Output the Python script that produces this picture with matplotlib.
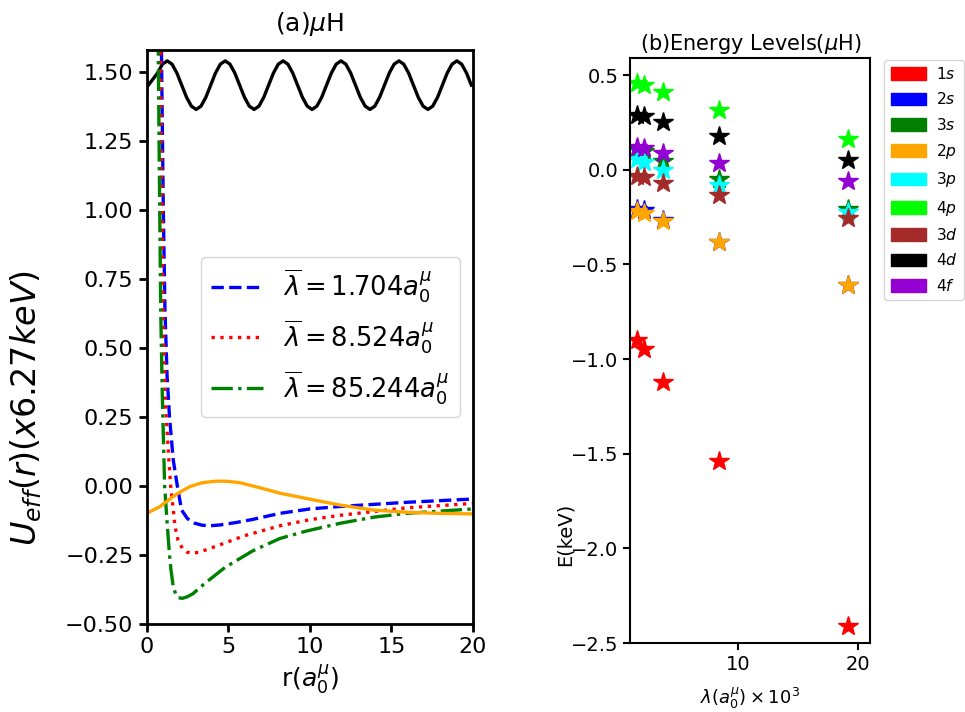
import numpy as np
import matplotlib
matplotlib.use('Agg')
import matplotlib.pyplot as plt
from matplotlib.patches import Patch

# ---- panel (a): effective potential ----
r_blue = [0.55, 0.80, 0.92, 1.02, 1.12, 1.25, 1.40, 1.63, 1.88, 2.14, 2.50, 2.96, 3.40, 3.88, 4.50, 5.50, 6.50, 8.17, 10.0, 11.86, 15.93, 20.0]
u_blue = [5.0, 2.2, 1.50, 1.00, 0.64, 0.40, 0.25, 0.094, 0.0, -0.087, -0.118, -0.135, -0.142, -0.144, -0.141, -0.132, -0.121, -0.099, -0.083, -0.074, -0.059, -0.047]

r_red = [0.50, 0.70, 0.86, 0.94, 1.02, 1.15, 1.36, 1.47, 1.74, 1.92, 2.19, 2.45, 2.76, 3.20, 3.80, 4.58, 6.00, 8.17, 10.0, 11.86, 15.93, 20.0]
u_red = [5.0, 2.5, 1.50, 1.00, 0.60, 0.30, 0.094, 0.0, -0.147, -0.196, -0.226, -0.239, -0.244, -0.240, -0.228, -0.211, -0.180, -0.144, -0.122, -0.106, -0.079, -0.063]

r_green = [0.45, 0.62, 0.72, 0.80, 0.86, 0.95, 1.06, 1.10, 1.27, 1.40, 1.49, 1.63, 1.80, 1.95, 2.19, 2.50, 2.84, 3.50, 4.80, 6.50, 8.17, 9.80, 11.86, 13.90, 15.93, 20.0]
u_green = [5.0, 2.5, 1.50, 1.00, 0.64, 0.35, 0.094, 0.0, -0.147, -0.250, -0.304, -0.365, -0.395, -0.405, -0.407, -0.401, -0.390, -0.356, -0.295, -0.235, -0.190, -0.163, -0.135, -0.113, -0.099, -0.083]

r_orange = [0.0, 0.8, 1.6, 2.1, 2.65, 3.4, 4.29, 5.0, 5.72, 7.0, 8.17, 9.80, 11.86, 13.90, 15.93, 18.0, 20.0]
u_orange = [-0.099, -0.075, -0.039, -0.020, -0.002, 0.012, 0.018, 0.017, 0.012, -0.007, -0.026, -0.045, -0.069, -0.087, -0.095, -0.099, -0.101]

# black oscillation, sampled every 0.296 (1/12 of its period), first peak at r=1.26
r_black = np.concatenate([[0.0], 1.26 + 0.296 * np.arange(-2, 64)])
u_black = [1.445, 1.497, 1.529,
           1.541, 1.529, 1.497, 1.453, 1.409, 1.377, 1.365, 1.377, 1.409, 1.453, 1.497, 1.529,
           1.541, 1.529, 1.497, 1.453, 1.409, 1.377, 1.365, 1.377, 1.409, 1.453, 1.497, 1.529,
           1.541, 1.529, 1.497, 1.453, 1.409, 1.377, 1.365, 1.377, 1.409, 1.453, 1.497, 1.529,
           1.541, 1.529, 1.497, 1.453, 1.409, 1.377, 1.365, 1.377, 1.409, 1.453, 1.497, 1.529,
           1.541, 1.529, 1.497, 1.453, 1.409, 1.377, 1.365, 1.377, 1.409, 1.453, 1.497, 1.529,
           1.541, 1.529, 1.497, 1.453]

labels_a = [r'$\overline{\lambda}=1.704a_0^{\mu}$',
            r'$\overline{\lambda}=8.524a_0^{\mu}$',
            r'$\overline{\lambda}=85.244a_0^{\mu}$']

# ---- panel (b): energy levels ----
lam = [1.56, 2.17, 3.72, 8.42, 19.1]
levels = ['1s', '2s', '3s', '2p', '3p', '4p', '3d', '4d', '4f']
colors = ['red', 'blue', 'green', 'orange', 'cyan', 'lime', 'brown', 'black', 'darkviolet']
E_1s = [-0.90, -0.945, -1.12, -1.54, -2.41]
E_2s = [-0.21, -0.215, -0.263, -0.38, -0.61]
E_3s = [0.107, 0.10, 0.045, -0.048, -0.206]
E_2p = [-0.22, -0.228, -0.27, -0.38, -0.61]
E_3p = [0.055, 0.04, 0.0, -0.083, -0.224]
E_4p = [0.46, 0.45, 0.41, 0.315, 0.16]
E_3d = [-0.034, -0.04, -0.072, -0.136, -0.256]
E_4d = [0.29, 0.284, 0.25, 0.178, 0.051]
E_4f = [0.12, 0.116, 0.086, 0.033, -0.06]
energies = [E_1s, E_2s, E_3s, E_2p, E_3p, E_4p, E_3d, E_4d, E_4f]

fig = plt.figure(figsize=(9.65, 7.12), dpi=100)

ax1 = fig.add_axes([0.152, 0.1236, 0.338, 0.806])
ax1.plot(r_black, u_black, color='black', lw=2.4)
ax1.plot(r_blue, u_blue, '--', color='blue', lw=2.4, label=labels_a[0])
ax1.plot(r_red, u_red, ':', color='red', lw=2.4, label=labels_a[1])
ax1.plot(r_green, u_green, '-.', color='green', lw=2.4, label=labels_a[2])
ax1.plot(r_orange, u_orange, '-', color='orange', lw=2.4)
ax1.set_xlim(0, 20)
ax1.set_ylim(-0.5, 1.58)
ax1.set_xticks([0, 5, 10, 15, 20])
ax1.set_yticks(np.arange(-0.5, 1.51, 0.25))
ax1.tick_params(labelsize=16, width=2, length=6)
for s in ax1.spines.values():
    s.set_linewidth(2)
ax1.set_title(r'(a)$\mu$H', fontsize=18, pad=14)
ax1.set_xlabel(r'r($a_0^{\mu}$)', fontsize=18)
ax1.set_ylabel(r'$U_{eff}(r)(x6.27keV)$', fontsize=24)
ax1.yaxis.set_label_coords(-0.315, 0.376)
ax1.legend(loc='center right', fontsize=18.5)

ax2 = fig.add_axes([0.653, 0.0969, 0.249, 0.8216])
for E, c in zip(energies, colors):
    ax2.plot(lam, E, '*', color=c, markersize=15, linestyle='none')
ax2.set_xlim(1.0, 21.0)
ax2.set_ylim(-2.5, 0.59)
ax2.set_xticks([10, 20])
ax2.set_yticks([0.5, 0.0, -0.5, -1.0, -1.5, -2.0, -2.5])
ax2.tick_params(labelsize=14, width=1.5, length=5)
for s in ax2.spines.values():
    s.set_linewidth(1.5)
ax2.set_title(r'(b)Energy Levels($\mu$H)', fontsize=15)
ax2.set_xlabel(r'$\lambda(a_0^{\mu})\times10^3$', fontsize=13, labelpad=9)
ax2.set_ylabel('E(keV)', fontsize=14)
ax2.yaxis.set_label_coords(-0.23, 0.185)
handles = [Patch(color=c, label='$' + l + '$') for l, c in zip(levels, colors)]
ax2.legend(handles=handles, loc='upper left', bbox_to_anchor=(1.058, 0.997),
           borderaxespad=0, fontsize=11.2, handlelength=2.25, handleheight=0.9,
           handletextpad=0.7, labelspacing=0.6)

plt.savefig('out.png', dpi=100)
